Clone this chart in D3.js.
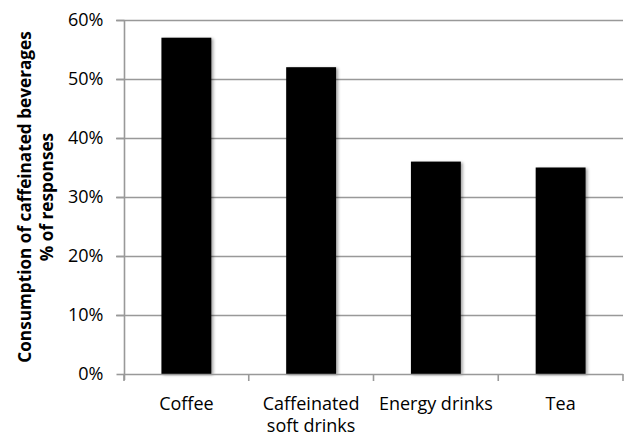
<!DOCTYPE html>
<html>
<head>
<meta charset="utf-8">
<script src="https://cdn.jsdelivr.net/npm/d3@7"></script>
<style>
  html, body { margin: 0; padding: 0; background: #fff; }
  svg { display: block; font-family: "Open Sans", sans-serif; }
</style>
</head>
<body>
<svg id="chart" width="629" height="437"></svg>
<script>
// Beverage categories (multi-line labels split on "\n")
const categories = ["Coffee", "Caffeinated\nsoft drinks", "Energy drinks", "Tea"];
// Share of responses, in percent
const values = [57, 52, 36, 35];
// Y-axis tick values and labels
const yTicks = [0, 10, 20, 30, 40, 50, 60];
const yTickLabels = ["0%", "10%", "20%", "30%", "40%", "50%", "60%"];
const yTitleLines = ["Consumption of caffeinated beverages", "% of responses"];

const svg = d3.select("#chart");
const margin = { left: 124, right: 6, top: 20, bottom: 63 };
const W = 629, H = 437;

const x = d3.scaleBand()
  .domain(categories)
  .range([margin.left, W - margin.right])
  .paddingInner(0.6)
  .paddingOuter(0.3);

const y = d3.scaleLinear()
  .domain([0, 60])
  .range([H - margin.bottom, margin.top]);

const defs = svg.append("defs");
const shadow = defs.append("filter").attr("id", "barShadow")
  .attr("x", "-20%").attr("y", "-10%").attr("width", "140%").attr("height", "120%");
shadow.append("feDropShadow")
  .attr("dx", 2).attr("dy", 1).attr("stdDeviation", 1.6)
  .attr("flood-color", "#000").attr("flood-opacity", 0.35);

const gridColor = "#999";

// Horizontal gridlines (including tick stubs to the left of the axis)
svg.append("g")
  .selectAll("line")
  .data(yTicks.filter(d => d > 0))
  .join("line")
  .attr("x1", margin.left - 8)
  .attr("x2", W - margin.right)
  .attr("y1", d => Math.round(y(d)) + 0.5)
  .attr("y2", d => Math.round(y(d)) + 0.5)
  .attr("stroke", gridColor)
  .attr("stroke-width", 1.6);

// Bars
svg.append("g")
  .selectAll("rect")
  .data(values)
  .join("rect")
  .attr("x", (d, i) => x(categories[i]))
  .attr("width", x.bandwidth())
  .attr("y", d => y(d))
  .attr("height", d => y(0) - y(d))
  .attr("fill", "#000")
  .attr("filter", "url(#barShadow)");

// Y axis
const yAxis = d3.axisLeft(y)
  .tickValues(yTicks)
  .tickFormat((d, i) => yTickLabels[i])
  .tickSize(8)
  .tickSizeOuter(0)
  .tickPadding(13);

const yg = svg.append("g")
  .attr("transform", `translate(${margin.left + 0.5},0)`)
  .call(yAxis);
yg.select(".domain").attr("stroke", gridColor).attr("stroke-width", 1.6)
  .attr("d", `M0,${margin.top}V${y(0) + 6}`);
yg.selectAll(".tick line").attr("stroke", gridColor).attr("stroke-width", 1.6);
yg.selectAll(".tick text")
  .attr("fill", "#000")
  .style("font-family", "'Open Sans', sans-serif")
  .style("font-size", "18px");

// X axis: category boundary ticks
const bounds = [x.range()[0]].concat(categories.map(c => x(c) - x.step() * x.paddingInner() / 2 + x.step()));
bounds[bounds.length - 1] = x.range()[1];
const xg = svg.append("g");
xg.append("line")
  .attr("x1", margin.left).attr("x2", W - margin.right)
  .attr("y1", Math.round(y(0)) + 0.5).attr("y2", Math.round(y(0)) + 0.5)
  .attr("stroke", gridColor).attr("stroke-width", 1.6);
xg.selectAll("line.tk")
  .data(bounds)
  .join("line")
  .attr("class", "tk")
  .attr("x1", d => d).attr("x2", d => d)
  .attr("y1", y(0)).attr("y2", y(0) + 7)
  .attr("stroke", gridColor).attr("stroke-width", 1.6);

// Category labels
xg.selectAll("text")
  .data(categories)
  .join("text")
  .attr("text-anchor", "middle")
  .attr("fill", "#000")
  .style("font-size", "18px")
  .attr("transform", d => `translate(${x(d) + x.bandwidth() / 2},${y(0) + 36})`)
  .each(function (d) {
    const lines = d.split("\n");
    d3.select(this).selectAll("tspan")
      .data(lines)
      .join("tspan")
      .attr("x", 0)
      .attr("dy", (l, i) => i === 0 ? 0 : 22)
      .text(l => l);
  });

// Y axis title (two lines, rotated)
const cy = (y(0) + y(60)) / 2;
svg.append("text")
  .attr("transform", `translate(31,${cy}) rotate(-90)`)
  .attr("text-anchor", "middle")
  .attr("fill", "#000")
  .style("font-size", "17.2px")
  .style("font-weight", "bold")
  .selectAll("tspan")
  .data(yTitleLines)
  .join("tspan")
  .attr("x", 0)
  .attr("dy", (l, i) => i === 0 ? 0 : 22)
  .text(l => l);
</script>
</body>
</html>
